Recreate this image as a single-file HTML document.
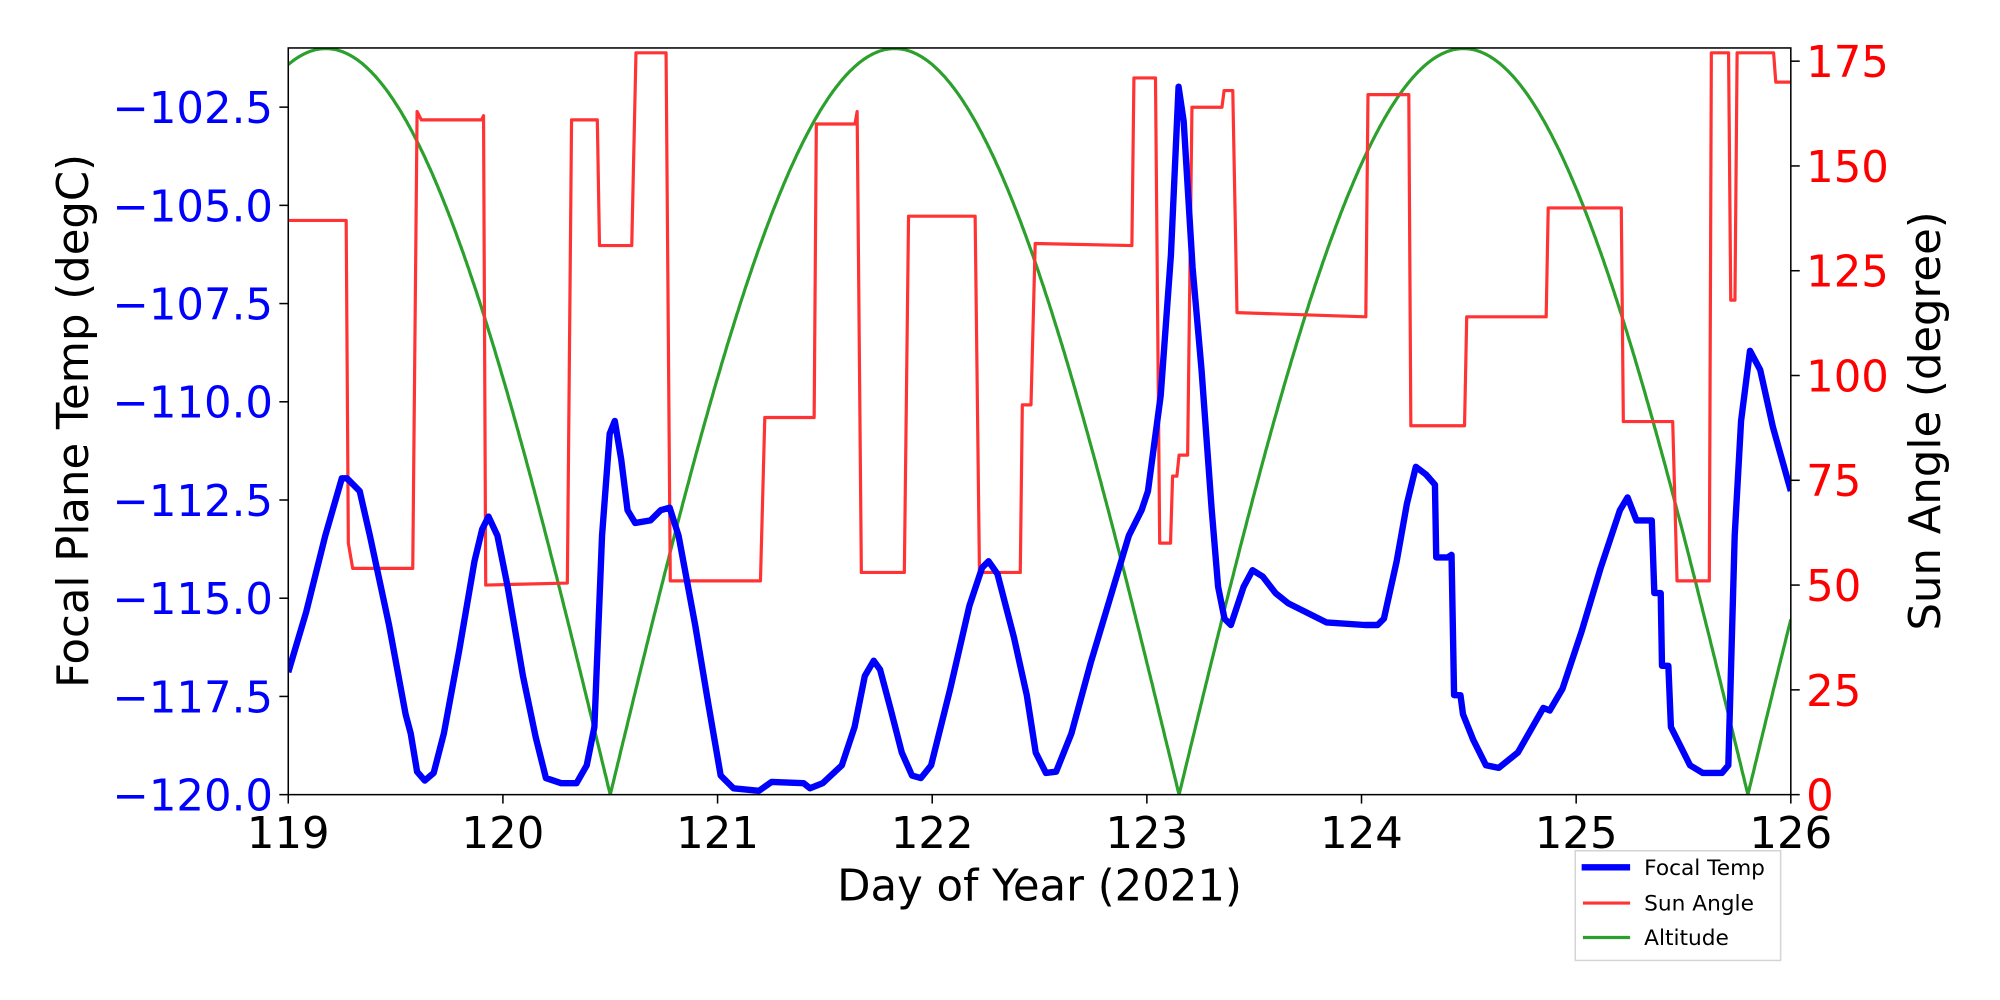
<!DOCTYPE html>
<html><head><meta charset="utf-8"><style>html,body{margin:0;padding:0;background:#fff}svg{display:block}</style></head>
<body>
<svg id="s" width="2000" height="1000" viewBox="0 0 1568 784" xmlns="http://www.w3.org/2000/svg" font-family="DejaVu Sans, Liberation Sans, sans-serif">
<rect width="1568" height="784" fill="#fff"/>
<defs><clipPath id="c"><rect x="226" y="37.6" width="1178" height="585.4"/></clipPath></defs>
<g clip-path="url(#c)">
<path id="alt" fill="none" stroke="#2ca02c" stroke-width="2.5"/>
<path id="sun" fill="none" stroke="#ff3333" stroke-width="2.5" stroke-linejoin="round"/>
<polyline id="ft" fill="none" stroke="#0000ff" stroke-width="5" stroke-linejoin="round" points="226,527 240,480 255,420 268,375 272,375 282,385 290,420 305,490 318,560 322,575 327,605 333,612 340,606 348,575 360,510 372,440 378,415 383,405 390,420 398,460 410,530 420,578 428,610 440,614 452,614 460,600 466,570 472,420 478,340 482,330 487,360 492,400 498,410 510,408 518,400 525,398 532,420 545,490 555,550 565,608 575,618 595,620 605,613 630,614 635,618 645,614 660,600 670,570 678,530 685,518 690,525 698,555 707,590 715,608 722,610 730,600 745,540 760,475 770,445 775,440 782,450 795,500 805,545 812,590 820,606 828,605 840,575 855,520 870,470 885,420 895,400 900,385 910,310 918,200 924,68 928,95 935,210 942,290 950,400 955,460 960,485 965,490 975,460 982,447 990,452 1000,465 1010,473 1030,483 1040,488 1070,490 1080,490 1085,485 1095,440 1103,395 1110,366 1118,372 1125,380 1126,437 1135,437 1138,435 1140,545 1145,545 1147,560 1155,580 1165,600 1175,602 1190,590 1210,555 1215,557 1225,540 1240,495 1255,445 1270,400 1276,390 1283,408 1295,408 1297,465 1302,465 1303,522 1308,522 1310,570 1325,600 1335,606 1350,606 1355,600 1360,420 1365,330 1372,275 1380,290 1390,335 1404,385"/>
</g>
<rect x="226" y="37.6" width="1178" height="585.4" fill="none" stroke="#000" stroke-width="1.2"/>
<g id="ticks" font-size="34"></g>
<text x="815" y="706" font-size="34" text-anchor="middle">Day of Year (2021)</text>
<text transform="translate(69,330) rotate(-90)" font-size="34" text-anchor="middle">Focal Plane Temp (degC)</text>
<text transform="translate(1521,330) rotate(-90)" font-size="34" text-anchor="middle">Sun Angle (degree)</text>
<g>
<rect x="1235" y="667" width="161" height="86" fill="#fff" stroke="#d5d5d5" stroke-width="1.2"/>
<line x1="1240" y1="680" x2="1278" y2="680" stroke="#0000ff" stroke-width="5"/>
<line x1="1241" y1="708" x2="1278" y2="708" stroke="#ff3333" stroke-width="2.5"/>
<line x1="1241" y1="735" x2="1278" y2="735" stroke="#2ca02c" stroke-width="2.5"/>
<text x="1289" y="686" font-size="17">Focal Temp</text>
<text x="1289" y="714" font-size="17">Sun Angle</text>
<text x="1289" y="741" font-size="17">Altitude</text>
</g>
</svg>
<script>
var NS='http://www.w3.org/2000/svg';
var L=226,R=1404,B=623,dx=(R-L)/7;
function X(d){return L+(d-119)*dx}
function YA(a){return B-a*3.286}
var p='';
for(var i=0;i<=1400;i++){var d=119+7*i/1400;var a=178*Math.abs(Math.sin(Math.PI*(d-120.5)/2.65));p+=(i?'L':'M')+X(d).toFixed(1)+','+YA(a).toFixed(1);}
document.getElementById('alt').setAttribute('d',p);
var s=[[119,137],[119.27,137],[119.28,60],[119.3,54],[119.58,54],[119.6,163],[119.62,161],[119.9,161],[119.91,162],[119.92,50],[120.3,50.5],[120.32,161],[120.44,161],[120.45,131],[120.6,131],[120.62,177],[120.76,177],[120.78,51],[121.2,51],[121.22,90],[121.45,90],[121.46,160],[121.64,160],[121.65,163],[121.67,53],[121.87,53],[121.89,138],[122.2,138],[122.22,53],[122.41,53],[122.42,93],[122.46,93],[122.48,131.5],[122.93,131],[122.94,171],[123.04,171],[123.06,60],[123.11,60],[123.12,76],[123.14,76],[123.15,81],[123.19,81],[123.21,164],[123.35,164],[123.36,168],[123.4,168],[123.42,115],[124.02,114],[124.03,167],[124.22,167],[124.23,88],[124.48,88],[124.49,114],[124.86,114],[124.87,140],[125.21,140],[125.22,89],[125.45,89],[125.47,51],[125.62,51],[125.63,177],[125.71,177],[125.72,118],[125.74,118],[125.75,177],[125.92,177],[125.93,170],[126,170]];
var q='';s.forEach(function(v,i){q+=(i?'L':'M')+X(v[0]).toFixed(1)+','+YA(v[1]).toFixed(1)});
document.getElementById('sun').setAttribute('d',q);
var g=document.getElementById('ticks');
function el(n,at,txt){var e=document.createElementNS(NS,n);for(var k in at)e.setAttribute(k,at[k]);if(txt!==undefined)e.textContent=txt;g.appendChild(e);}
for(var k=0;k<=7;k++){var x=X(119+k);el('line',{x1:x,y1:B,x2:x,y2:B+7,stroke:'#000','stroke-width':1.2});el('text',{x:x,y:B+42,'text-anchor':'middle'},String(119+k));}
for(var k=0;k<=7;k++){var y=B-k*77;var v=(-120+2.5*k).toFixed(1).replace('-','\u2212');el('line',{x1:L-7,y1:y,x2:L,y2:y,stroke:'#000','stroke-width':1.2});el('text',{x:L-12,y:y+12.5,'text-anchor':'end',fill:'#0000ff'},v);}
for(var k=0;k<=7;k++){var y=YA(25*k);el('line',{x1:R,y1:y,x2:R+7,y2:y,stroke:'#000','stroke-width':1.2});el('text',{x:R+12,y:y+12.5,fill:'#ff0000'},String(25*k));}
</script>
</body></html>
